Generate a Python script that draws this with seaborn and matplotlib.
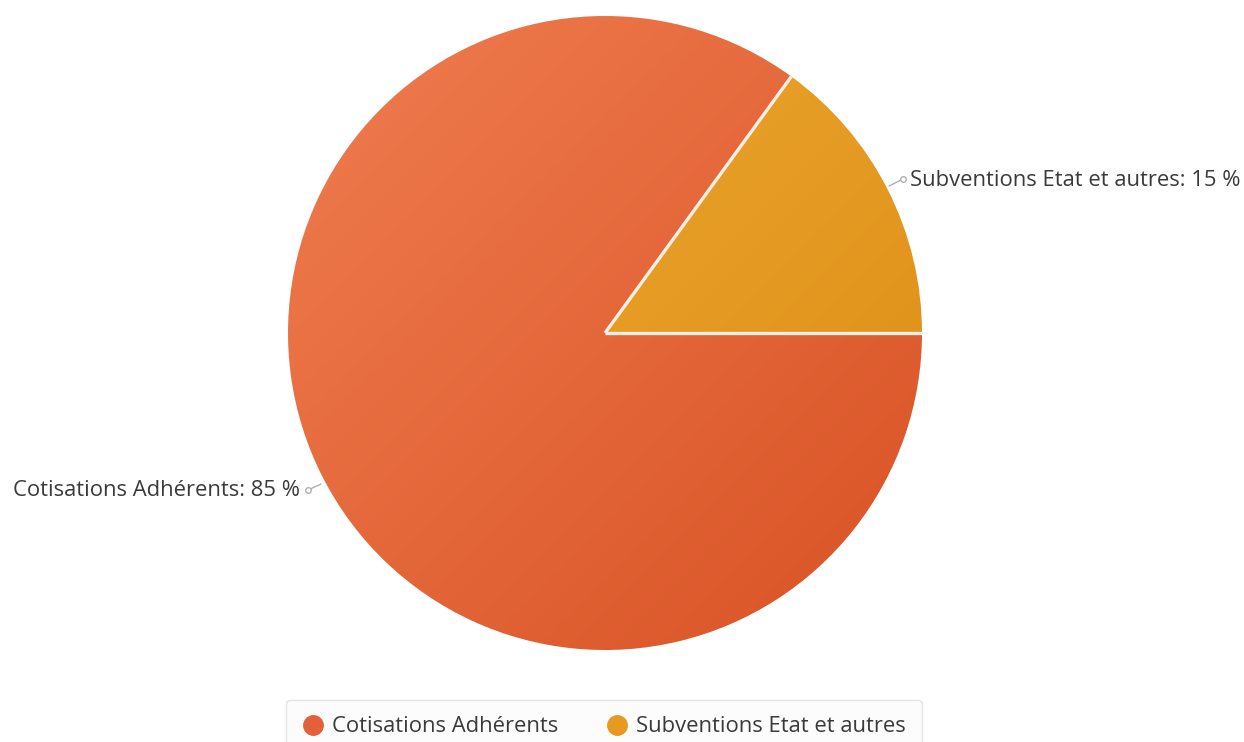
"""
Répartition des ressources - pie chart.
"""

import numpy as np
import matplotlib.pyplot as plt
import seaborn as sns
from matplotlib.lines import Line2D
from matplotlib.colors import LinearSegmentedColormap

sns.set_theme(style="white")
plt.rcParams['font.family'] = ['Open Sans', 'DejaVu Sans']

# data
labels = ["Cotisations Adhérents", "Subventions Etat et autres"]
shares = [85, 15]
light_colors = ["#F07D50", "#EEAC38"]
dark_colors = ["#D85224", "#DD8C12"]
legend_colors = ["#E2603A", "#E69A22"]

W, H = 1244, 742
fig = plt.figure(figsize=(W / 100, H / 100), dpi=100)
ax = fig.add_axes([0, 0, 1, 1])

cx, cy, r = 605, H - 333, 317
start = 54
wedges, _ = ax.pie(shares, startangle=start, counterclock=True,
                   center=(cx, cy), radius=r, frame=True,
                   colors=legend_colors,
                   wedgeprops=dict(edgecolor='none', linewidth=0))
ax.set_xlim(0, W)
ax.set_ylim(0, H)
ax.set_aspect('equal')
ax.axis('off')

# diagonal gradient fill clipped to each wedge
n = 300
gx, gy = np.meshgrid(np.linspace(0, 1, n), np.linspace(0, 1, n))
grad = (gx + gy) / 2.0  # 0 at top-left, 1 at bottom-right
for w, c0, c1 in zip(wedges, light_colors, dark_colors):
    cmap = LinearSegmentedColormap.from_list("g", [c0, c1])
    im = ax.imshow(grad, cmap=cmap, origin='upper',
                   extent=(cx - r, cx + r, cy - r, cy + r), zorder=1.5,
                   interpolation='bilinear')
    im.set_clip_path(w)
    w.set_facecolor('none')
    w.set_zorder(2)

# white separators between slices
bounds = np.cumsum([0] + shares) / 100.0 * 360 + start
for a in bounds[:-1]:
    t = np.deg2rad(a)
    ax.plot([cx, cx + r * np.cos(t)], [cy, cy + r * np.sin(t)],
            color='#F7EFE6', lw=2.4, zorder=3, solid_capstyle='butt')

# labels with small connectors
label_color = "#3A3A3A"
fs = 15.8
ax.plot([889, 903], [H - 186, H - 179], color="#B0B0B0", lw=1, zorder=3)
ax.plot([903], [H - 179], marker='o', ms=4, mfc='white', mec="#B0B0B0", mew=1, zorder=3)
ax.text(910, H - 180, f"{labels[1]}: {shares[1]} %", ha='left', va='center',
        fontsize=fs, color=label_color)

ax.plot([321, 308], [H - 484, H - 490], color="#B0B0B0", lw=1, zorder=3)
ax.plot([308], [H - 490], marker='o', ms=4, mfc='white', mec="#B0B0B0", mew=1, zorder=3)
ax.text(300, H - 490, f"{labels[0]}: {shares[0]} %", ha='right', va='center',
        fontsize=fs, color=label_color)

# legend at the bottom, partly cut off
handles = [Line2D([], [], marker='o', ls='', ms=14, mfc=c, mec=c) for c in legend_colors]
leg = ax.legend(handles, labels, loc='upper center', ncol=2,
                bbox_to_anchor=(604 / W, (H - 700) / H), borderaxespad=0,
                frameon=True, fontsize=fs, handletextpad=0.35,
                columnspacing=2.2, borderpad=0.75, handlelength=1.0,
                fancybox=True, labelcolor=label_color)
leg.get_frame().set_edgecolor("#DDDDDD")
leg.get_frame().set_facecolor("#FCFCFC")
leg.get_frame().set_linewidth(1.0)

fig.savefig("out.png", dpi=100)
